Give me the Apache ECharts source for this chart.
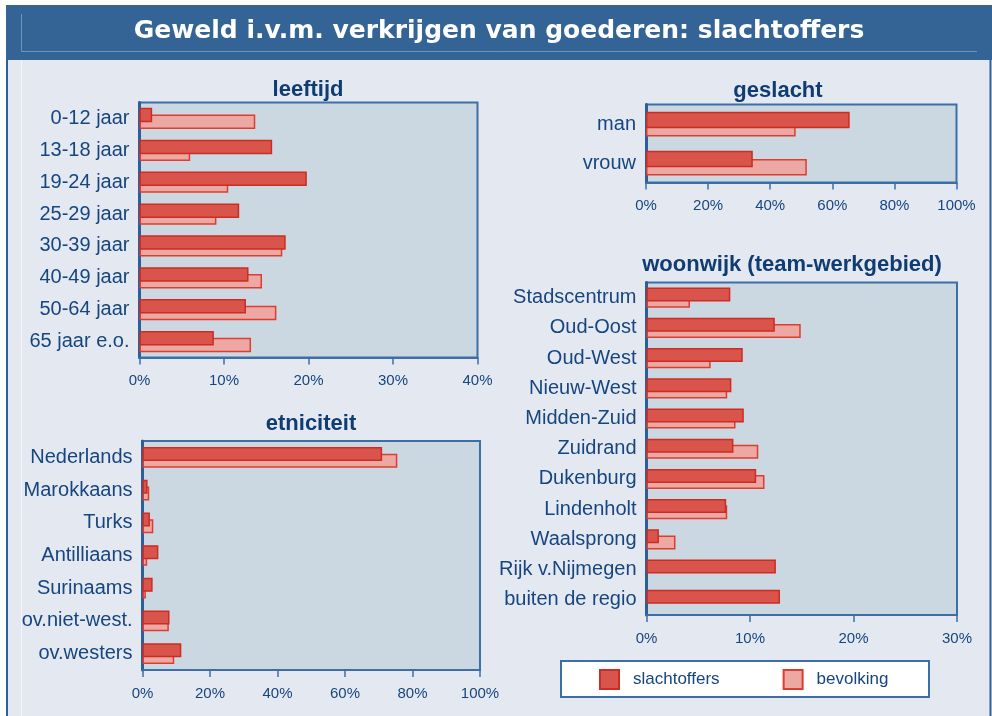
<!DOCTYPE html>
<html>
<head>
<meta charset="utf-8">
<script src="https://cdn.jsdelivr.net/npm/echarts@6/dist/echarts.min.js"></script>
<style>
html,body{margin:0;padding:0;background:#ffffff;}
#c{width:992px;height:716px;}
</style>
</head>
<body>
<div id="c"></div>
<script>
// ---- data ----
var mainTitle = 'Geweld i.v.m. verkrijgen van goederen: slachtoffers';
var seriesNames = ['slachtoffers', 'bevolking'];

var leeftijdCats = ['0-12 jaar','13-18 jaar','19-24 jaar','25-29 jaar','30-39 jaar','40-49 jaar','50-64 jaar','65 jaar e.o.'];
var leeftijdSlacht = [1.5, 15.7, 19.8, 11.8, 17.3, 12.9, 12.6, 8.8];
var leeftijdBevolk = [13.7, 6.0, 10.5, 9.1, 16.9, 14.5, 16.2, 13.2];

var geslachtCats = ['man','vrouw'];
var geslachtSlacht = [65.6, 34.4];
var geslachtBevolk = [48.2, 51.8];

var etnCats = ['Nederlands','Marokkaans','Turks','Antilliaans','Surinaams','ov.niet-west.','ov.westers'];
var etnSlacht = [71.0, 1.5, 2.2, 4.7, 3.0, 8.0, 11.5];
var etnBevolk = [75.5, 2.0, 3.2, 1.4, 1.0, 7.8, 9.4];

var wijkCats = ['Stadscentrum','Oud-Oost','Oud-West','Nieuw-West','Midden-Zuid','Zuidrand','Dukenburg','Lindenholt','Waalsprong','Rijk v.Nijmegen','buiten de regio'];
var wijkSlacht = [8.1, 12.4, 9.3, 8.2, 9.4, 8.4, 10.6, 7.7, 1.2, 12.5, 12.9];
var wijkBevolk = [4.2, 14.9, 6.2, 7.8, 8.6, 10.8, 11.4, 7.8, 2.8, null, null];

var panelTitles = ['leeftijd','geslacht','etniciteit','woonwijk (team-werkgebied)'];
var axisMax = [40, 100, 100, 30];
var axisInterval = [10, 20, 20, 10];

// ---- styling ----
var FONT = 'Liberation Sans, Arial, sans-serif';
var labelColor = '#16457f';
var titleColor = '#0f3c73';
var frameBlue = '#3d6ea5';
var slFill = '#d9544b', slBorder = '#cc2c22';
var bvFill = '#eca8a3', bvBorder = '#df3b2f';

var grids = [
  {left:139.5, top:102.5, width:338, height:255},
  {left:646, top:104.5, width:310.5, height:78},
  {left:142.5, top:441, width:337.5, height:229},
  {left:646.5, top:282.5, width:310.5, height:332.5}
];
var barW = [14.5, 16.5, 14, 14];
var barGap = ['-54%', '-50%', '-52%', '-56%'];
var cats = [leeftijdCats, geslachtCats, etnCats, wijkCats];
var sl = [leeftijdSlacht, geslachtSlacht, etnSlacht, wijkSlacht];
var bv = [leeftijdBevolk, geslachtBevolk, etnBevolk, wijkBevolk];
var titlePos = [[308, 90], [778, 91], [311, 424], [792, 265]];

var option = {
  backgroundColor: '#ffffff',
  animation: false,
  grid: grids.map(function(g){
    return Object.assign({show:true, backgroundColor:'#cbd8e2', borderColor:frameBlue, borderWidth:2, containLabel:false}, g);
  }),
  xAxis: grids.map(function(g, i){
    return {
      gridIndex:i, type:'value', min:0, max:axisMax[i], interval:axisInterval[i],
      axisLine:{show:true, lineStyle:{color:frameBlue, width:2}},
      axisTick:{show:true, length:7, lineStyle:{color:frameBlue, width:1.5}},
      splitLine:{show:false},
      axisLabel:{formatter:'{value}%', color:labelColor, fontSize:15, fontFamily:FONT, margin:16, showMaxLabel:true}
    };
  }),
  yAxis: grids.map(function(g, i){
    return {
      gridIndex:i, type:'category', data:cats[i], inverse:true,
      axisLine:{show:true, lineStyle:{color:'#2c5e98', width:3}},
      axisTick:{show:false},
      splitLine:{show:false},
      axisLabel:{color:labelColor, fontSize:20, fontFamily:FONT, margin:10}
    };
  }),
  legend: {
    data: seriesNames,
    left: 599, top: 669, padding: 0,
    icon: 'rect',
    itemWidth: 19, itemHeight: 19, itemGap: 63,
    textStyle: {color:labelColor, fontSize:17, fontFamily:FONT, padding:[0,0,0,9]},
    selectedMode: false,
    z: 10
  },
  series: [],
  graphic: [
    {type:'rect', z:-10, shape:{x:6, y:60, width:985, height:656}, style:{fill:'#e4e9f1'}, silent:true},
    {type:'line', z:-9, shape:{x1:21.5, y1:60, x2:21.5, y2:716}, style:{stroke:'#f4f6fa', lineWidth:1}, silent:true},
    {type:'line', z:-9, shape:{x1:7, y1:60, x2:7, y2:716}, style:{stroke:'#2f5f96', lineWidth:2}, silent:true},
    {type:'line', z:-9, shape:{x1:990.5, y1:60, x2:990.5, y2:716}, style:{stroke:'#2f5f96', lineWidth:2}, silent:true},
    {type:'rect', z:-8, shape:{x:6, y:5, width:986, height:55}, style:{fill:'#346395'}, silent:true},
    {type:'polyline', z:-7, shape:{points:[[21.5,14],[21.5,51.5],[977,51.5]]}, style:{stroke:'#6d93c0', lineWidth:1, fill:null}, silent:true},
    {type:'text', z:5, x:499, y:31, style:{text:mainTitle, fill:'#ffffff', font:'bold 25px "DejaVu Sans", Verdana, sans-serif', textAlign:'center', textVerticalAlign:'middle'}},
    {type:'rect', z:1, shape:{x:561, y:661, width:368, height:36}, style:{fill:'#ffffff', stroke:frameBlue, lineWidth:2}, silent:true}
  ]
};

panelTitles.forEach(function(t, i){
  option.graphic.push({type:'text', z:5, x:titlePos[i][0], y:titlePos[i][1],
    style:{text:t, fill:titleColor, font:'bold 22px "Liberation Sans", Arial, sans-serif', textAlign:'center', textVerticalAlign:'middle'}});
});

for (var i = 0; i < 4; i++) {
  option.series.push({
    name:'slachtoffers', type:'bar', xAxisIndex:i, yAxisIndex:i, data:sl[i],
    barWidth:barW[i], barGap:barGap[i], z:3,
    itemStyle:{color:slFill, borderColor:slBorder, borderWidth:1.5}
  });
  option.series.push({
    name:'bevolking', type:'bar', xAxisIndex:i, yAxisIndex:i, data:bv[i],
    barWidth:barW[i], barGap:barGap[i], z:2,
    itemStyle:{color:bvFill, borderColor:bvBorder, borderWidth:1.5}
  });
}

var chart = echarts.init(document.getElementById('c'), null, {renderer:'canvas'});
chart.setOption(option);
</script>
</body>
</html>
